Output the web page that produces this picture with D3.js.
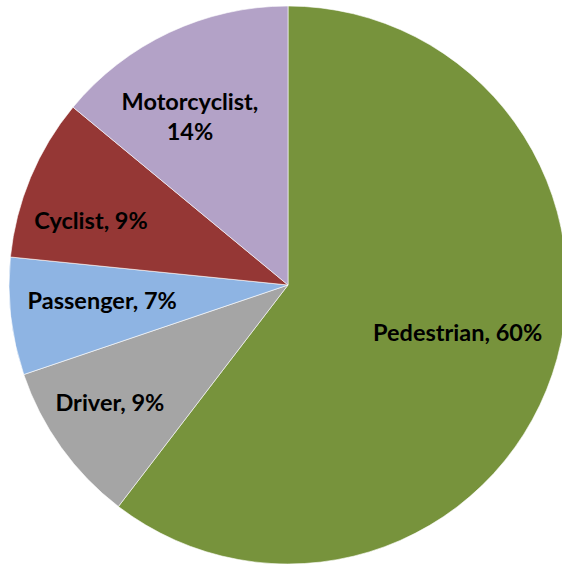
<!DOCTYPE html>
<html>
<head>
<meta charset="utf-8">
<script src="https://cdn.jsdelivr.net/npm/d3@7"></script>
<style>
  body { margin: 0; background: #fff; }
  svg { display: block; }
  .lbl { font-family: Lato, "Open Sans", sans-serif; font-weight: bold; font-size: 23.5px; fill: #000; }
</style>
</head>
<body>
<svg width="562" height="564"></svg>
<script>
// road user groups, share of deaths (%)
const categories = ['Pedestrian', 'Driver', 'Passenger', 'Cyclist', 'Motorcyclist'];
const shares = [60.4, 9.4, 6.8, 9.4, 14.0];
const percentLabels = ['60%', '9%', '7%', '9%', '14%'];
const colors = ['#77933C', '#A5A5A5', '#8EB4E3', '#953735', '#B3A2C7'];

// label placement (radius from centre, then small nudge)
const labelRadius = [177, 213, 187, 207, 195];
const labelNudge = [[2, -9], [-5, -7], [0, -6], [-6, 15], [-15, 8]];

const svg = d3.select('svg');
const cx = 288, cy = 285, r = 279;

const rows = categories.map((c, i) => ({ name: c, value: shares[i], pct: percentLabels[i], i: i }));

const pie = d3.pie().value(d => d.value).sort(null);
const arc = d3.arc().innerRadius(0).outerRadius(r);
const arcs = pie(rows);

const g = svg.append('g').attr('transform', `translate(${cx},${cy})`);

g.selectAll('path.slice')
    .data(arcs)
    .join('path')
    .attr('class', 'slice')
    .attr('d', arc)
    .attr('fill', d => colors[d.data.i])
    .attr('stroke', '#fff')
    .attr('stroke-width', 0.6);

const lbl = g.selectAll('text.lbl')
    .data(arcs)
    .join('text')
    .attr('class', 'lbl')
    .attr('text-anchor', 'middle')
    .attr('transform', d => {
        const la = d3.arc().innerRadius(labelRadius[d.data.i]).outerRadius(labelRadius[d.data.i]);
        const p = la.centroid(d);
        const n = labelNudge[d.data.i];
        return `translate(${p[0] + n[0]},${p[1] + n[1]})`;
    });

lbl.each(function (d) {
    const t = d3.select(this);
    if (d.data.name === 'Motorcyclist') {
        // two lines, like the original
        t.append('tspan').attr('x', 0).attr('y', '-0.3em').text(d.data.name + ',');
        t.append('tspan').attr('x', 0).attr('y', '1.0em').text(d.data.pct);
    } else {
        t.append('tspan').attr('x', 0).attr('y', '0.36em').text(d.data.name + ', ' + d.data.pct);
    }
});
</script>
</body>
</html>
